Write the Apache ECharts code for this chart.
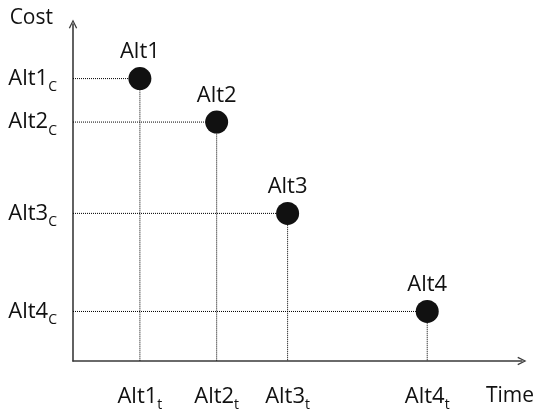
<!DOCTYPE html>
<html>
<head>
<meta charset="utf-8">
<script src="https://cdn.jsdelivr.net/npm/echarts@6/dist/echarts.min.js"></script>
<style>html,body{margin:0;padding:0;background:#fff}#c{width:537px;height:412px}</style>
</head>
<body>
<div id="c"></div>
<script>
// Data (relative units, axes run 0..100)
var alternatives = ['Alt1', 'Alt2', 'Alt3', 'Alt4'];
var timeValues = [14.9, 32.0, 47.8, 78.9];
var costValues = [83.8, 70.9, 43.8, 14.7];
var timeTickLabels = ['Alt1', 'Alt2', 'Alt3', 'Alt4'];
var timeTickSubs = ['t', 't', 't', 't'];
var costTickLabels = ['Alt1', 'Alt2', 'Alt3', 'Alt4'];
var costTickSubs = ['C', 'C', 'C', 'C'];

var FONT = '"Open Sans", "Noto Sans", sans-serif';
var TXT = '#111';
var AX = '#3a3a3a';
var arrowPath = 'path://M0,10 L5,0 L10,10 L8.6,10.7 L5,3 L1.4,10.7 Z';

var chart = echarts.init(document.getElementById('c'), null, {renderer: 'canvas'});

var richStyle = {
  m: {fontSize: 22, fontFamily: FONT, color: TXT, lineHeight: 31},
  s: {fontSize: 14, fontFamily: FONT, color: TXT, lineHeight: 31, verticalAlign: 'bottom'}
};

var guideSeries = alternatives.map(function (name, i) {
  return {
    type: 'line',
    data: [[0, costValues[i]], [timeValues[i], costValues[i]], [timeValues[i], 0]],
    symbol: 'none',
    silent: true,
    z: 1,
    lineStyle: {color: '#000', width: 1, type: [1, 1]}
  };
});

var option = {
  animation: false,
  backgroundColor: '#fff',
  grid: {left: 73, right: 14, top: 24, bottom: 48, containLabel: false},
  xAxis: {
    type: 'value', min: 0, max: 100,
    name: 'Time', nameLocation: 'end', nameGap: -12,
    nameTextStyle: {fontSize: 21, fontFamily: FONT, color: TXT, align: 'center', verticalAlign: 'top', padding: [25, 0, 0, 0]},
    axisLine: {show: true, symbol: ['none', arrowPath], symbolSize: [10, 9], lineStyle: {color: AX, width: 1.6}},
    axisTick: {show: false},
    splitLine: {show: false},
    axisLabel: {
      customValues: timeValues,
      margin: 20,
      formatter: function (v) {
        var i = timeValues.indexOf(v);
        if (i < 0) return '';
        return '{m|' + timeTickLabels[i] + '}{s|' + timeTickSubs[i] + '}';
      },
      rich: richStyle
    }
  },
  yAxis: {
    type: 'value', min: 0, max: 100,
    name: 'Cost', nameLocation: 'end', nameGap: 6,
    nameTextStyle: {fontSize: 21, fontFamily: FONT, color: TXT, align: 'right', verticalAlign: 'middle', padding: [0, 20, 0, 0]},
    axisLine: {show: true, symbol: ['none', arrowPath], symbolSize: [10, 9], lineStyle: {color: AX, width: 1.6}},
    axisTick: {show: false},
    splitLine: {show: false},
    axisLabel: {
      customValues: costValues,
      margin: 16,
      formatter: function (v) {
        var i = costValues.indexOf(v);
        if (i < 0) return '';
        return '{m|' + costTickLabels[i] + '}{s|' + costTickSubs[i] + '}';
      },
      rich: richStyle
    }
  },
  series: guideSeries.concat([{
    type: 'scatter',
    z: 5,
    symbolSize: 23,
    itemStyle: {color: '#111', opacity: 1},
    data: alternatives.map(function (n, i) { return {name: n, value: [timeValues[i], costValues[i]]}; }),
    label: {
      show: true, position: 'top', distance: 4,
      formatter: function (p) { return p.name; },
      fontSize: 22, fontFamily: FONT, color: TXT
    }
  }])
};
chart.setOption(option);
</script>
</body>
</html>
